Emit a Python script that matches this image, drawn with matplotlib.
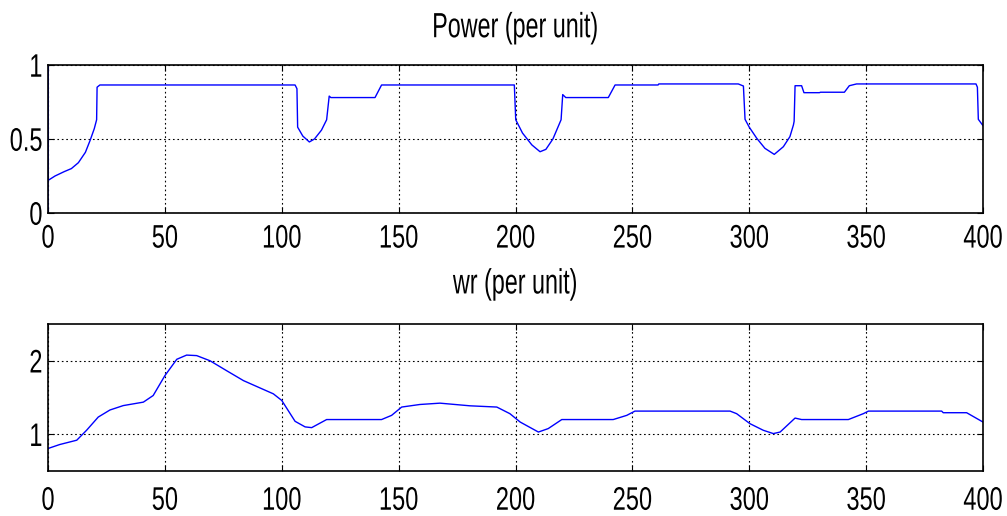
import numpy as np
import matplotlib
matplotlib.use("Agg")
import matplotlib.pyplot as plt
from matplotlib.patheffects import AbstractPathEffect
from matplotlib.transforms import Affine2D

plt.rcParams['font.family'] = ['Liberation Sans', 'DejaVu Sans']

# Power (per unit) trace
t_power = [0, 0, 0, 3, 7, 10, 13, 16, 18, 19.8, 20.8, 21, 22.2,
           105.7, 106.5, 106.8, 109, 111.8, 114, 117, 119.2, 120.3, 121,
           139.9, 142.7, 199.5, 200.1, 203, 207, 210.5, 213, 216, 219.5,
           220.2, 221.5, 239.7, 242.6, 261, 261.3, 295.3, 297.5, 298.2,
           300, 303.2, 306.7, 310.7, 314.6, 317.4, 318.9, 319.2, 319.6,
           322.4, 323.4, 330, 330.5, 340.7, 342.8, 345.9, 397, 397.6, 398, 400]
power = [0, 1, 0.22, 0.25, 0.28, 0.30, 0.34, 0.41, 0.49, 0.57, 0.63, 0.85, 0.865,
         0.865, 0.84, 0.58, 0.52, 0.48, 0.50, 0.56, 0.63, 0.79, 0.78,
         0.78, 0.865, 0.865, 0.63, 0.54, 0.46, 0.414, 0.43, 0.50, 0.63,
         0.80, 0.78, 0.78, 0.865, 0.865, 0.872, 0.872, 0.858, 0.633,
         0.58, 0.505, 0.437, 0.396, 0.448, 0.516, 0.595, 0.62, 0.86,
         0.86, 0.813, 0.813, 0.816, 0.816, 0.86, 0.872, 0.872, 0.85, 0.633, 0.59]

# wr (per unit) trace
t_wr = [0, 5, 12.3, 16.5, 21.5, 26.5, 32.2, 40.8, 45, 50, 55.1, 59.3, 63.6,
        69.3, 76.4, 83.6, 90.7, 96.4, 100, 105.7, 110, 112.8, 119.2,
        142.7, 147, 151.3, 159.1, 167.7, 180.5, 192, 197.6, 202, 209.8,
        214, 219.8, 241.8, 247.6, 251.1, 291.8, 294.6, 300.3, 306, 310.3,
        313.2, 319.6, 322.4, 342.4, 348.8, 351, 382.3, 383, 393, 400]
wr = [0.806, 0.86, 0.919, 1.054, 1.234, 1.33, 1.39, 1.437, 1.527, 1.797, 2.02, 2.077, 2.07,
      2.0, 1.865, 1.73, 1.63, 1.55, 1.46, 1.176, 1.10, 1.09, 1.2,
      1.2, 1.257, 1.37, 1.405, 1.423, 1.387, 1.37, 1.28, 1.166, 1.03,
      1.077, 1.2, 1.2, 1.257, 1.315, 1.315, 1.28, 1.144, 1.054, 1.009,
      1.03, 1.22, 1.2, 1.2, 1.28, 1.315, 1.315, 1.293, 1.293, 1.166]

x_ticks = [0, 50, 100, 150, 200, 250, 300, 350, 400]


class TallText(AbstractPathEffect):
    """Stretch glyphs vertically: the reference font is tall and narrow."""
    def __init__(self, sy=1.4, frac=0.0):
        super().__init__()
        self.sy, self.frac = sy, frac

    def draw_path(self, renderer, gc, tpath, affine, rgbFace=None):
        m = affine.get_matrix()
        tx = m[0, 2]
        ay = m[1, 2] + self.frac * m[1, 1] * 100 * 0.72
        stretch = Affine2D().translate(-tx, -ay).scale(1, self.sy).translate(tx, ay)
        renderer.draw_path(gc, tpath, affine + stretch, rgbFace)


fig = plt.figure(figsize=(10.07, 5.16), dpi=100)
ax1 = fig.add_axes([48 / 1007, 303 / 516, 935 / 1007, 148 / 516])
ax2 = fig.add_axes([48 / 1007, 45 / 516, 935 / 1007, 147 / 516])

ax1.plot(t_power, power, color='#0000ff', lw=1.0)
ax2.plot(t_wr, wr, color='#0000ff', lw=1.0)

ax1.set_ylim(0, 1)
ax1.set_yticks([0, 0.5, 1])
ax1.set_yticklabels(['0', '0.5', '1'])
ax2.set_ylim(0.5, 2.5)
ax2.set_yticks([1, 2])

for ax, title, tpad, xpad in [(ax1, 'Power (per unit)', 20, 8), (ax2, 'wr (per unit)', 22, 11)]:
    ax.set_xlim(0, 400)
    ax.set_xticks(x_ticks)
    ax.grid(True, color='black', linestyle=(0, (1.5, 2.5)), linewidth=0.8)
    ax.tick_params(direction='in', length=4, width=0.8, top=True, right=True,
                   labelsize=17, colors='black')
    ax.tick_params(axis='x', pad=xpad)
    ax.tick_params(axis='y', pad=4)
    for sp in ax.spines.values():
        sp.set_linewidth(1.2)
        sp.set_color('black')
    t = ax.set_title(title, fontsize=16.8, pad=tpad)
    t.set_path_effects([TallText(1.5, 0.0)])
    for lab in ax.get_xticklabels():
        lab.set_path_effects([TallText(1.38, 1.0)])
    for lab in ax.get_yticklabels():
        lab.set_path_effects([TallText(1.38, 0.5)])

fig.savefig('out.png', dpi=100)
